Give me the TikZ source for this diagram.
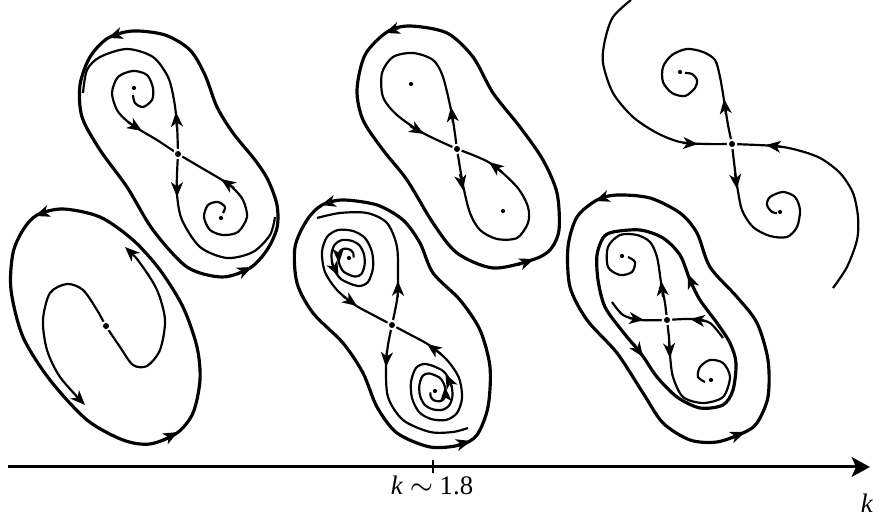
\documentclass[tikz,border=0pt]{standalone}
\usepackage{fontspec}
\setmainfont{Liberation Serif}
\usetikzlibrary{arrows.meta}
\tikzset{
  orbit/.style={line width=0.9pt},
  manifold/.style={line width=0.62pt},
  flowtip/.style={line width=0.62pt,->},
  axislabel/.style={font=\fontsize{7.6}{9}\selectfont,inner sep=0pt}
}
\newcommand{\saddlept}[1]{\fill[white] (#1) circle (1.5pt); \fill (#1) circle (0.85pt);}
\newcommand{\focuspt}[1]{\fill (#1) circle (0.6pt);}
\newcommand{\dspiral}{%
\draw[manifold] plot[smooth] coordinates {(353.6,257.6) (353.3,253.3) (350.3,249.8) (345,248.6) (340.6,250.6) (338.2,256.2) (339.4,264.2) (344,272) (354.9,276.6) (361.4,274.0) (364.6,264.9) (364.0,254.4) (359.4,245.3) (351.6,240.8) (341.9,240.1) (334.7,244.7) (331.5,254.4) (333.4,267.5) (341.2,279.2) (358,286) (368,282) (373,268) (372,252) (365,238) (353,231) (338,230) (327,237) (322,252) (325,272) (337,290) (355,305) (375,316) (sadD)};
\draw[flowtip] (338.3,252) -- (339,263);
\draw[flowtip] (332,263) -- (338.5,276);
\draw[flowtip] (343,296) -- (357,306);
}
\begin{document}
\begin{tikzpicture}[x=0.01cm,y=-0.01cm,>={Stealth[length=4.2pt,width=3.4pt,inset=1.2pt]}]
\useasboundingbox (0,0) rectangle (884,519);
\coordinate (sadA) at (178,154);
\coordinate (focA1) at (134,88);
\coordinate (focA2) at (221,218);
\coordinate (nodB) at (106,326);
\coordinate (sadC) at (457,149);
\coordinate (focC1) at (411,84);
\coordinate (focC2) at (503,211);
\coordinate (sadD) at (392,325);
\coordinate (focD1) at (349,258);
\coordinate (focD2) at (435,391);
\coordinate (sadE) at (732,144);
\coordinate (focE1) at (680,72);
\coordinate (focE2) at (780,212);
\coordinate (sadF) at (667,320);
\coordinate (focF1) at (622,256);
\coordinate (focF2) at (711,380);

\draw[orbit] plot[smooth cycle] coordinates {(133,31) (108,38) (90,57) (80,85) (82,117) (100,150) (127,187) (153,230) (187,267) (222,277) (250,268) (267,250) (277,228) (277,205) (268,180) (255,160) (233,133) (217,107) (205,75) (190,50) (165,35)};
\draw[flowtip] (122,33) -- (108,38);
\draw[flowtip] (237,274) -- (252,267);
\draw[manifold] plot[smooth] coordinates {(sadA) (177,125) (174,100) (168,77) (153,57) (127,49) (100,57) (87,70) (83,93)};
\draw[flowtip] (177,128) -- (176,112);
\draw[manifold] plot[smooth] coordinates {(sadA) (177,175) (177,195) (182,220) (200,247) (227,258) (253,252) (270,235) (275,217)};
\draw[flowtip] (177,181) -- (177,197);
\draw[manifold] plot[smooth] coordinates {(133,95) (135,103) (143,107) (152,100) (153,88) (147,75) (133,71) (118,77) (112,93) (117,110) (127,121) (140,130) (157,140) (sadA)};
\draw[flowtip] (128,122) -- (142,131);
\draw[manifold] plot[smooth] coordinates {(223,213) (225,207) (218,202) (208,205) (204,217) (210,230) (223,235) (238,232) (247,217) (243,200) (233,188) (222,180) (200,167) (sadA)};
\draw[flowtip] (234,188) -- (221,179);

\draw[orbit] plot[smooth cycle] coordinates {(63,209) (37,215) (23,230) (13,253) (11,290) (23,337) (50,380) (87,420) (123,440) (150,444) (177,433) (193,413) (200,380) (197,347) (183,307) (160,270) (133,240) (100,217)};
\draw[flowtip] (49,211) -- (35,216);
\draw[flowtip] (163,440) -- (178,432);
\draw[manifold,<->] plot[smooth] coordinates {(125,247) (140,263) (157,290) (165,320) (160,350) (147,366) (133,365) (120,347) (nodB) (97,310) (83,290) (67,284) (50,293) (43,320) (47,350) (60,377) (85,405)};

\draw[orbit] plot[smooth cycle] coordinates {(410,26) (387,32) (365,55) (357,90) (363,120) (383,150) (407,180) (433,223) (457,253) (493,268) (532,260) (550,250) (559,230) (557,193) (543,160) (520,127) (493,93) (473,57) (447,33)};
\draw[flowtip] (399,28) -- (385,33);
\draw[flowtip] (518,265) -- (534,259);
\draw[manifold] plot[smooth] coordinates {(sadC) (452,115) (443,77) (433,60) (413,53) (393,57) (382,73) (383,97) (397,115) (423,133) (sadC)};
\draw[flowtip] (453,123) -- (451,107);
\draw[flowtip] (410,126) -- (424,134);
\draw[manifold] plot[smooth] coordinates {(sadC) (463,185) (470,213) (480,230) (497,239) (517,238) (528,223) (528,207) (517,187) (490,163) (sadC)};
\draw[flowtip] (460,174) -- (463,190);
\draw[flowtip] (502,172) -- (489,162);

\draw[orbit] plot[smooth cycle] coordinates {(343,200) (322,205) (307,220) (295,247) (297,283) (313,313) (343,343) (363,373) (377,407) (397,433) (430,447) (460,445) (477,435) (488,407) (490,367) (480,330) (460,300) (433,273) (420,243) (403,220) (377,205)};
\draw[flowtip] (335,201) -- (321,205);
\draw[flowtip] (457,445) -- (471,441);
\draw[manifold] plot[smooth] coordinates {(sadD) (397,300) (398,283) (397,247) (387,223) (367,213) (340,213) (317,218)};
\draw[flowtip] (398,297) -- (398,281);
\draw[manifold] plot[smooth] coordinates {(sadD) (388,345) (386,365) (388,397) (403,420) (430,432) (453,432) (468,428)};
\draw[flowtip] (387,351) -- (386,367);
\dspiral
\begin{scope}[rotate around={180:(sadD)}]
\dspiral
\end{scope}

\draw[manifold] plot[smooth] coordinates {(631,0) (613,17) (605,40) (603,63) (613,93) (633,117) (657,133) (680,142) (705,144) (sadE)};
\draw[flowtip] (683,143) -- (698,144);
\draw[manifold] plot[smooth] coordinates {(833,288) (847,267) (857,240) (858,217) (853,193) (840,173) (820,158) (797,150) (775,146) (sadE)};
\draw[flowtip] (782,147) -- (766,145);
\draw[manifold] plot[smooth] coordinates {(sadE) (728,125) (724,100) (720,77) (715,60) (703,52) (687,49) (672,55) (663,67) (663,82) (672,93) (685,96) (695,88) (697,80) (692,74) (685,73)};
\draw[flowtip] (726,115) -- (724,99);
\draw[manifold] plot[smooth] coordinates {(sadE) (734,162) (737,185) (742,210) (753,227) (770,236) (787,237) (797,227) (800,210) (795,197) (783,192) (770,197) (767,205) (772,212) (777,213)};
\draw[flowtip] (735,173) -- (737,189);

\draw[orbit] plot[smooth cycle] coordinates {(617,195) (597,200) (577,217) (568,247) (570,287) (587,320) (617,353) (643,393) (663,423) (690,440) (717,442) (743,433) (757,423) (768,397) (768,360) (757,323) (737,297) (710,267) (697,233) (680,213) (650,198)};
\draw[flowtip] (609,196) -- (595,201);
\draw[flowtip] (730,438) -- (745,432);
\draw[orbit] plot[smooth cycle] coordinates {(640,230) (613,232) (603,238) (597,255) (598,280) (605,307) (623,332) (642,355) (657,377) (677,397) (700,408) (723,405) (733,390) (736,363) (730,343) (717,323) (700,300) (690,280) (680,255) (663,238)};
\draw[flowtip] (634,344) -- (643,357);
\draw[flowtip] (694,289) -- (688,274);
\draw[manifold] plot[smooth] coordinates {(sadF) (665,303) (661,282) (657,257) (650,242) (637,235) (620,235) (608,247) (608,267) (620,275) (632,272) (635,262) (628,257)};
\draw[flowtip] (663,297) -- (661,281);
\draw[manifold] plot[smooth] coordinates {(sadF) (669,338) (670,355) (673,377) (683,397) (703,403) (723,397) (730,377) (723,363) (710,360) (700,367) (698,377) (705,382)};
\draw[flowtip] (669,342) -- (670,358);
\draw[manifold] plot[smooth] coordinates {(612,302) (623,315) (640,320) (sadF)};
\draw[flowtip] (629,318) -- (644,320);
\draw[manifold] plot[smooth] coordinates {(723,338) (710,323) (693,319) (sadF)};
\draw[flowtip] (705,321) -- (690,319);

\saddlept{sadA} \saddlept{nodB} \saddlept{sadC} \saddlept{sadD} \saddlept{sadE} \saddlept{sadF}
\focuspt{focA1} \focuspt{focA2} \focuspt{focC1} \focuspt{focC2} \focuspt{focD1} \focuspt{focD2}
\focuspt{focE1} \focuspt{focE2} \focuspt{focF1} \focuspt{focF2}

\coordinate (axL) at (8,467);
\coordinate (axR) at (870,467);
\coordinate (kcrit) at (433,467);
\draw[line width=0.85pt,-{Stealth[length=5.2pt,width=5.6pt,inset=1.2pt]}] (axL) -- (axR);
\draw[line width=0.85pt] ([yshift=0.07cm]kcrit) -- ([yshift=-0.06cm]kcrit);
\node[axislabel] (kcritlabel) at (432,485) {\textit{k}~$\sim$~1.8};
\node[axislabel] (kaxislabel) at (867,503) {\textit{k}};
\end{tikzpicture}
\end{document}
